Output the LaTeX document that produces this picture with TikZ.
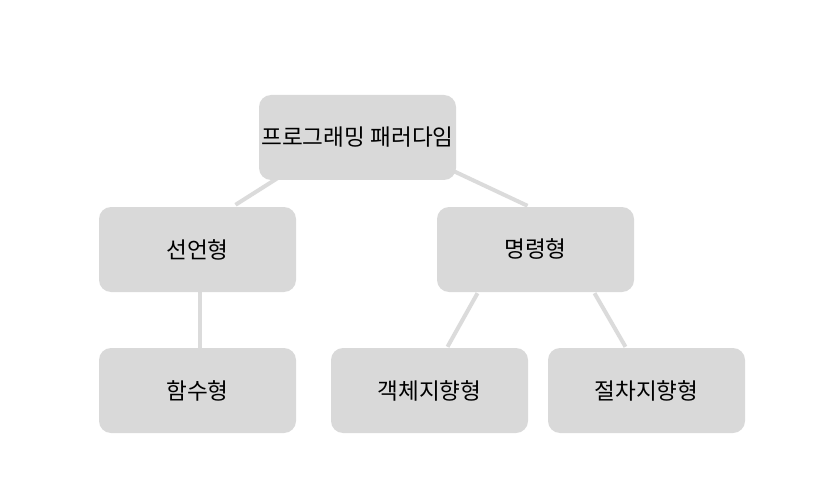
\documentclass[tikz,border=0pt]{standalone}
\usepackage{fontspec}
\setmainfont{Noto Sans CJK KR}
\usetikzlibrary{backgrounds}

\begin{document}
\begin{tikzpicture}[x=1pt,y=-1pt]
    \colorlet{boxgray}{gray!30}
    \colorlet{linegray}{gray!28}
    \tikzset{
        box/.style={fill=boxgray, rounded corners=12pt, minimum width=197pt,
                    minimum height=85pt, inner sep=0pt, font=\fontsize{22.6}{26}\selectfont},
        link/.style={linegray, line width=4pt}
    }

    \useasboundingbox (0,0) rectangle (816,481);

    \node[box] (root) at (357.5,137.5) {프로그래밍 패러다임};

    \node[box] (decl) at (197.5,249.5) {선언형};
    \node[box] (imp)  at (535.5,249.5) {명령형};

    \node[box] (func) at (197.5,390.5) {함수형};
    \node[box] (oop)  at (429.5,390.5) {객체지향형};
    \node[box] (proc) at (646.5,390.5) {절차지향형};

    %% lines behind the boxes
    \begin{scope}[on background layer]
        \draw[link] ([xshift=-80pt,yshift=2pt]root.south) -- ([xshift=38pt,yshift=2pt]decl.north);
        \draw[link] ([xshift=-6pt,yshift=-32pt]root.east) -- ([xshift=-8pt,yshift=1pt]imp.north);
        \draw[link] ([xshift=2.5pt]decl.south) -- ([xshift=2.5pt]func.north);
        \draw[link] ([xshift=-58pt,yshift=-1pt]imp.south) -- ([xshift=18pt,yshift=1pt]oop.north);
        \draw[link] ([xshift=59pt,yshift=-1pt]imp.south) -- ([xshift=-21pt,yshift=1pt]proc.north);
    \end{scope}

\end{tikzpicture}
\end{document}
